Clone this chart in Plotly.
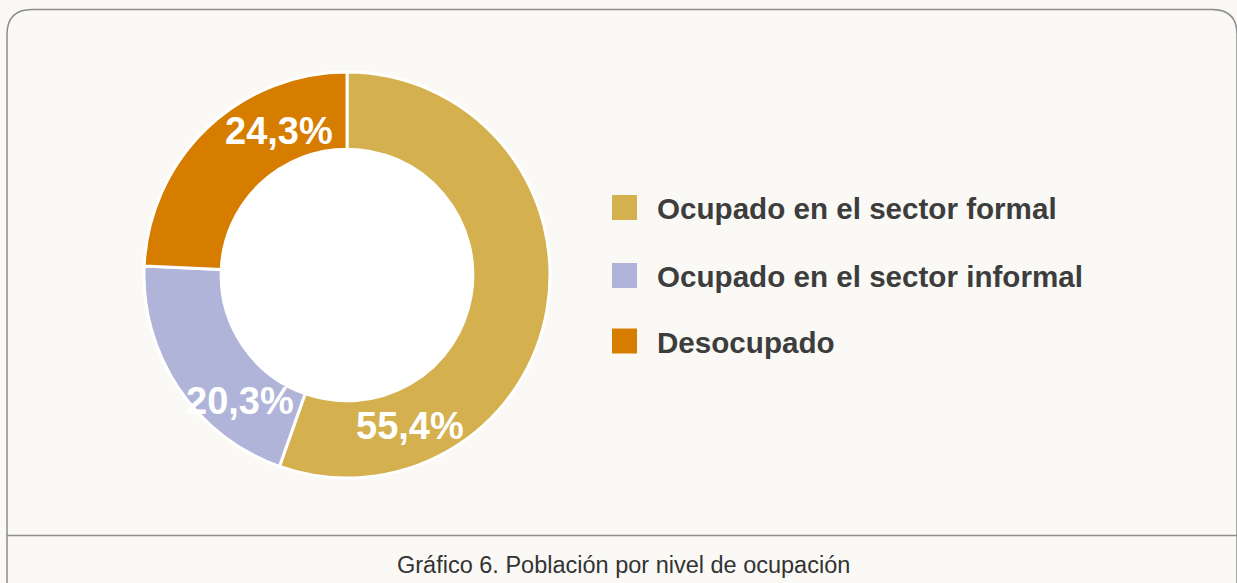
import plotly.graph_objects as go

W, H = 1237, 583

categories = ["Ocupado en el sector formal", "Ocupado en el sector informal", "Desocupado"]
values = [55.4, 20.3, 24.3]
colors = ["#D4B04E", "#B1B4D9", "#D67D00"]
caption = "Gráfico 6. Población por nivel de ocupación"

BG = "#FAF9F5"
BORDER = "#8C8C8C"
TXT = "#3D3D3D"


def px(x):
    return x / W


def py(y):
    return 1 - y / H


cx, cy, R = 347, 275, 203
hole = 0.62

fig = go.Figure()
fig.add_trace(go.Pie(
    labels=categories,
    values=values,
    sort=False,
    direction="clockwise",
    rotation=0,
    hole=hole,
    marker=dict(colors=colors, line=dict(color="white", width=3)),
    textinfo="none",
    hoverinfo="label+percent",
    showlegend=False,
    domain=dict(x=[px(cx - R), px(cx + R)], y=[py(cy + R), py(cy - R)]),
))

shapes = []
# white hole
r_in = R * hole
shapes.append(dict(type="circle", xref="paper", yref="paper",
                   x0=px(cx - r_in), x1=px(cx + r_in), y0=py(cy + r_in), y1=py(cy - r_in),
                   fillcolor="white", line=dict(width=0), layer="below"))

# rounded panel border
x0, y0, x1, y1, rr = 7, 9.5, 1237, 610, 25
path = (f"M {px(x0)},{py(y0+rr)} Q {px(x0)},{py(y0)} {px(x0+rr)},{py(y0)} "
        f"L {px(x1-rr)},{py(y0)} Q {px(x1)},{py(y0)} {px(x1)},{py(y0+rr)} "
        f"L {px(x1)},{py(y1-rr)} Q {px(x1)},{py(y1)} {px(x1-rr)},{py(y1)} "
        f"L {px(x0+rr)},{py(y1)} Q {px(x0)},{py(y1)} {px(x0)},{py(y1-rr)} Z")
shapes.append(dict(type="path", xref="paper", yref="paper", path=path,
                   line=dict(color=BORDER, width=1.5), fillcolor="rgba(0,0,0,0)", layer="below"))
# caption separator
shapes.append(dict(type="line", xref="paper", yref="paper",
                   x0=px(x0), x1=px(x1), y0=py(535.5), y1=py(535.5),
                   line=dict(color=BORDER, width=1.5), layer="below"))

annotations = []
# percentage labels
label_pos = [(410, 424), (240, 399), (279, 129)]
for v, (lx, ly) in zip(values, label_pos):
    annotations.append(dict(xref="paper", yref="paper", x=px(lx), y=py(ly + 2),
                            text=f"{v:.1f}%".replace(".", ","), showarrow=False,
                            xanchor="center", yanchor="middle",
                            font=dict(family="Liberation Sans", size=38, color="white", weight="bold")))

# manual legend
legend_y = [207.5, 275.5, 341]
for cat, col, ly in zip(categories, colors, legend_y):
    shapes.append(dict(type="rect", xref="paper", yref="paper",
                       x0=px(612), x1=px(637), y0=py(ly + 12.5), y1=py(ly - 12.5),
                       fillcolor=col, line=dict(width=0)))
    annotations.append(dict(xref="paper", yref="paper", x=px(655), y=py(ly + 1),
                            text=cat, showarrow=False, xanchor="left", yanchor="middle",
                            font=dict(family="Liberation Sans", size=29.6, color=TXT, weight="bold")))

annotations.append(dict(xref="paper", yref="paper", x=px(623), y=py(565),
                        text=caption, showarrow=False, xanchor="center", yanchor="middle",
                        font=dict(family="Liberation Sans", size=23.5, color="#333333")))

fig.update_layout(
    width=W, height=H,
    margin=dict(l=0, r=0, t=0, b=0),
    paper_bgcolor=BG, plot_bgcolor=BG,
    shapes=shapes, annotations=annotations,
    showlegend=False,
)

fig.write_html("out.html", config={"displayModeBar": False},
               post_script="document.body.style.margin='0';document.body.style.background='" + BG + "';")
